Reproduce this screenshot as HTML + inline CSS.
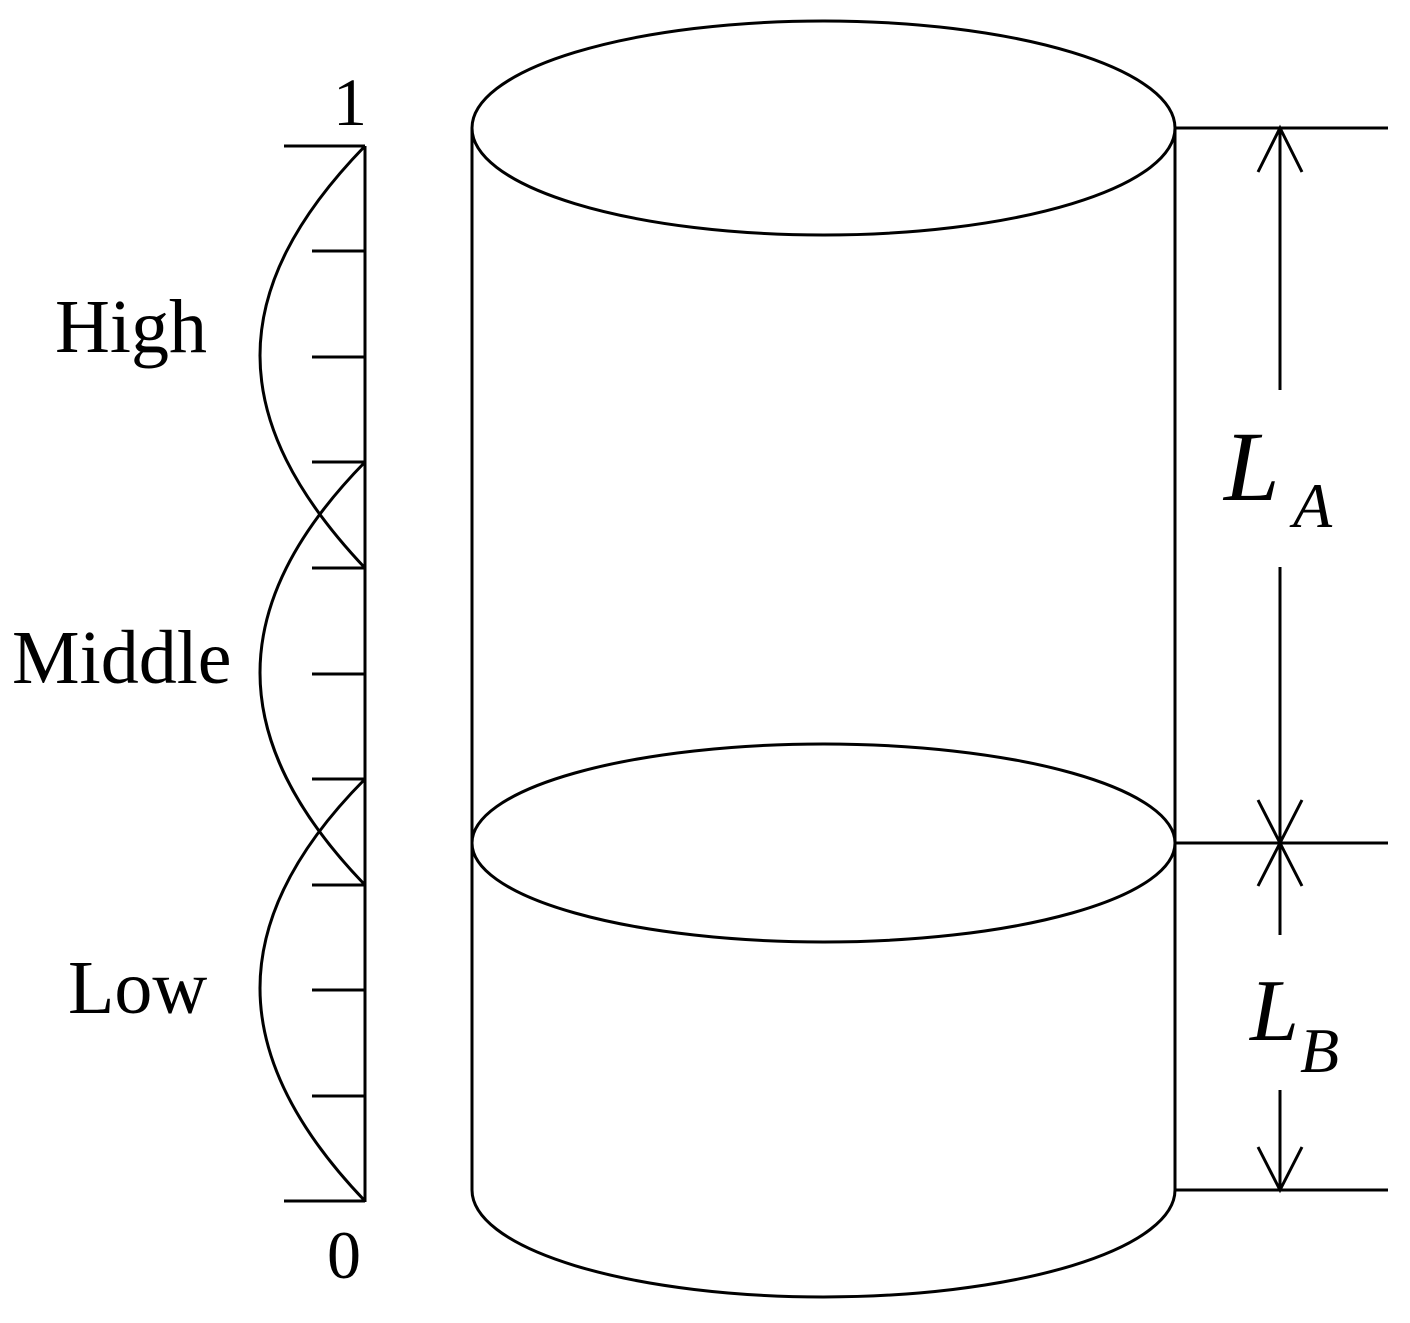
<!DOCTYPE html>
<html><head><style>html,body{margin:0;padding:0;background:#fff}svg{display:block}</style></head>
<body>
<svg width="1410" height="1323" viewBox="0 0 1410 1323" xmlns="http://www.w3.org/2000/svg">
<g stroke="#000" stroke-width="3" fill="none">
<line x1="365" y1="146" x2="365" y2="1202"/>
<line x1="284" y1="146" x2="365" y2="146"/>
<line x1="284" y1="1201" x2="365" y2="1201"/>
<line x1="312" y1="251" x2="365" y2="251"/>
<line x1="312" y1="357" x2="365" y2="357"/>
<line x1="312" y1="462" x2="365" y2="462"/>
<line x1="312" y1="568" x2="365" y2="568"/>
<line x1="312" y1="674" x2="365" y2="674"/>
<line x1="312" y1="779" x2="365" y2="779"/>
<line x1="312" y1="885" x2="365" y2="885"/>
<line x1="312" y1="990" x2="365" y2="990"/>
<line x1="312" y1="1096" x2="365" y2="1096"/>
<path d="M365,146 C225,290 225,420 365,568"/>
<path d="M365,462 C225,605 225,740 365,885"/>
<path d="M365,779 C225,920 225,1055 365,1201"/>
<ellipse cx="823.5" cy="128" rx="351.5" ry="107"/>
<ellipse cx="823.5" cy="843" rx="351.5" ry="99"/>
<path d="M472,1190 A351.5,107 0 0 0 1175,1190"/>
<line x1="472" y1="128" x2="472" y2="1190"/>
<line x1="1175" y1="128" x2="1175" y2="1190"/>
<line x1="1175" y1="128" x2="1388" y2="128"/>
<line x1="1175" y1="843" x2="1388" y2="843"/>
<line x1="1175" y1="1190" x2="1388" y2="1190"/>
<line x1="1280" y1="128" x2="1280" y2="390"/>
<line x1="1280" y1="567" x2="1280" y2="843"/>
<line x1="1280" y1="843" x2="1280" y2="935"/>
<line x1="1280" y1="1090" x2="1280" y2="1190"/>
<path d="M1258,172 L1280,128 L1302,172"/>
<path d="M1258,800 L1280,843 L1302,800"/>
<path d="M1258,886 L1280,843 L1302,886"/>
<path d="M1258,1147 L1280,1190 L1302,1147"/>
</g>
<g font-family="Liberation Serif, serif" fill="#000">
<text x="333" y="125" font-size="68">1</text>
<text x="327" y="1278" font-size="68">0</text>
<text x="55" y="352" font-size="76">High</text>
<text x="12" y="683" font-size="76">Middle</text>
<text x="68" y="1013" font-size="76">Low</text>
<text x="1224" y="500" font-size="100" font-style="italic">L</text>
<text x="1293" y="527" font-size="64" font-style="italic">A</text>
<text x="1250" y="1040" font-size="88" font-style="italic">L</text>
<text x="1300" y="1072" font-size="64" font-style="italic">B</text>
</g>
</svg>
</body></html>
